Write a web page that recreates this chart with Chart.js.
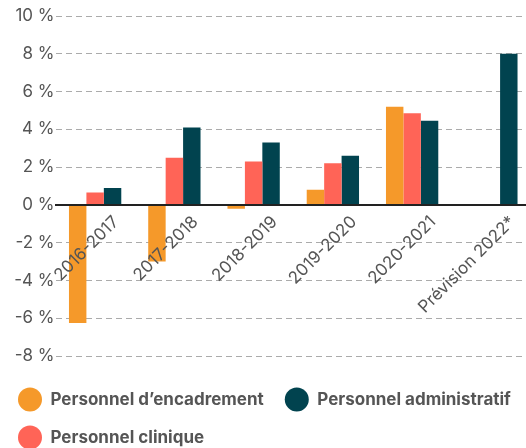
<!DOCTYPE html>
<html lang="fr">
<head>
<meta charset="utf-8">
<script src="https://cdn.jsdelivr.net/npm/chart.js@4"></script>
<style>
  html, body { margin: 0; padding: 0; background: #fff; overflow: hidden; }
  #wrap { width: 560px; height: 456px; }
</style>
</head>
<body>
<div id="wrap"><canvas id="barChart" width="560" height="456"></canvas></div>
<script>
// Périodes (catégories de l'axe x)
const periodes = ['2016-2017', '2017-2018', '2018-2019', '2019-2020', '2020-2021', 'Prévision 2022*'];

// Variation annuelle en % par type de personnel
const encadrement = [-6.25, -3.0, -0.2, 0.8, 5.2, null];
const clinique = [0.65, 2.5, 2.3, 2.2, 4.85, null];
const administratif = [0.9, 4.1, 3.3, 2.6, 4.45, 8.0];

// Ordre d'affichage dans la légende (encadrement, administratif, clinique)
const ordreLegende = [0, 2, 1];

const gris = '#555555';
Chart.defaults.font.family = 'Inter, "Noto Sans", sans-serif';

const data = {
    labels: periodes,
    datasets: [
        { label: 'Personnel d’encadrement', data: encadrement, backgroundColor: '#F5992A' },
        { label: 'Personnel clinique', data: clinique, backgroundColor: '#FF6457' },
        { label: 'Personnel administratif', data: administratif, backgroundColor: '#01434F' }
    ]
};

const config = {
    type: 'bar',
    data: data,
    options: {
        responsive: false,
        animation: false,
        devicePixelRatio: 1,
        categoryPercentage: 0.66,
        barPercentage: 1,
        layout: { padding: { top: 16, left: -3, right: 0, bottom: 0 } },
        plugins: {
            tooltip: { enabled: false },
            legend: {
                position: 'bottom',
                align: 'start',
                title: { display: true, text: '', padding: 0, font: { size: 10, lineHeight: 1.4 } },
                labels: {
                    usePointStyle: true,
                    pointStyle: 'circle',
                    pointStyleWidth: 24,
                    padding: 21,
                    color: gris,
                    font: { size: 17, weight: '700' },
                    sort: (a, b) => ordreLegende.indexOf(a.datasetIndex) - ordreLegende.indexOf(b.datasetIndex)
                }
            }
        },
        scales: {
            x: {
                position: { y: 0 },
                grid: { display: true, drawOnChartArea: false, drawTicks: false },
                border: { display: true, color: '#222222', width: 2, z: 1 },
                ticks: {
                    z: 1,
                    color: gris,
                    font: { size: 17 },
                    minRotation: 45,
                    maxRotation: 45,
                    padding: 7,
                    labelOffset: 21,
                    autoSkip: false
                }
            },
            y: {
                min: -8,
                max: 10,
                afterFit: (scale) => { scale.width = 58.5; },
                grid: {
                    drawTicks: false,
                    color: (ctx) => (ctx.tick && ctx.tick.value === 0) ? 'rgba(0,0,0,0)' : '#ababab',
                    lineWidth: 1
                },
                border: { display: false, dash: [6, 4] },
                ticks: {
                    stepSize: 2,
                    color: gris,
                    font: { size: 17 },
                    padding: 1,
                    callback: (v) => v + ' %'
                }
            },
            y2: {
                position: 'right',
                display: true,
                afterFit: (scale) => { scale.width = 29; },
                grid: { display: false },
                border: { display: false },
                ticks: { display: false }
            }
        }
    }
};

const ctx = document.getElementById('barChart').getContext('2d');
new Chart(ctx, config);
</script>
</body>
</html>
